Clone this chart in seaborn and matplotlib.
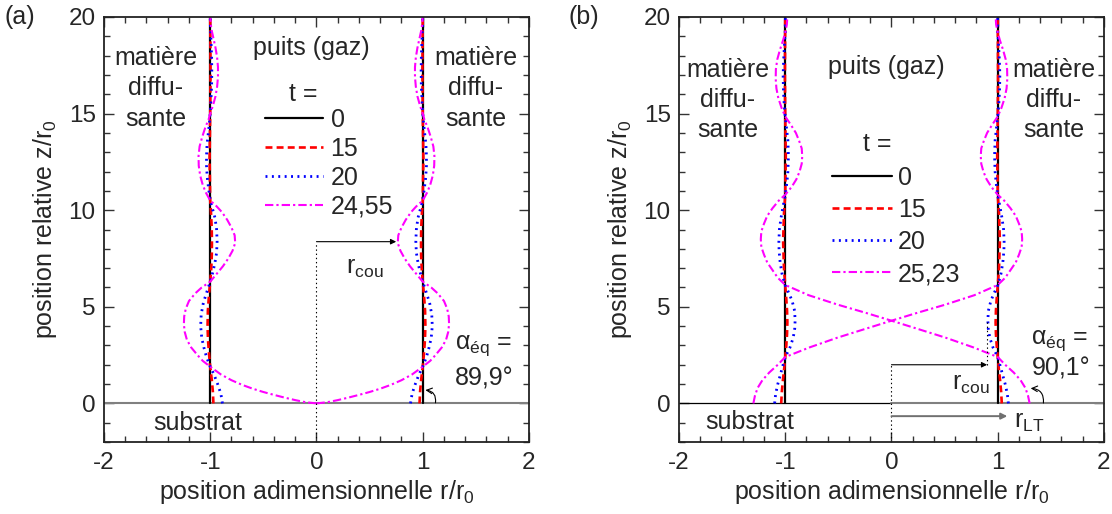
import numpy as np
import pandas as pd
import matplotlib.pyplot as plt
import seaborn as sns
from matplotlib.ticker import MultipleLocator

# légendes (temps adimensionnel)
t_a = ["0", "15", "20", "24,55"]
t_b = ["0", "15", "20", "25,23"]
colors = ["black", "#ff0000", "#0000ff", "#ff00ff"]

# ---- panneau (a) : profils r(z) du côté droit (le côté gauche est le miroir)
z_a0 = [0, 20]
r_a0 = [1, 1]

z_a15 = [0, 0.6, 1.2, 1.9, 2.6, 3.3, 4.0, 4.8, 5.6, 6.3, 7.0, 7.7, 8.4, 9.1,
         9.8, 10.5, 12.7, 15.0, 17.2, 20]
r_a15 = [0.97, 0.975, 0.985, 1.0, 1.012, 1.021, 1.025, 1.022, 1.012, 1.0,
         0.99, 0.985, 0.984, 0.986, 0.992, 1.0, 1.006, 1.0, 0.997, 1.0]

z_a20 = [0, 0.5, 1.0, 1.5, 1.9, 2.4, 2.9, 3.4, 4.0, 4.6, 5.2, 5.8, 6.3, 6.8,
         7.3, 7.8, 8.4, 9.0, 9.6, 10.1, 10.5, 11.1, 11.7, 12.3, 12.8, 13.4,
         14.0, 14.5, 15.0, 15.7, 16.4, 17.2, 18.0, 18.8, 19.5, 20]
r_a20 = [0.885, 0.9, 0.93, 0.965, 1.0, 1.035, 1.06, 1.08, 1.09, 1.085, 1.065,
         1.03, 1.0, 0.975, 0.955, 0.94, 0.935, 0.94, 0.955, 0.98, 1.0, 1.015,
         1.028, 1.035, 1.035, 1.03, 1.018, 1.008, 1.0, 0.993, 0.987, 0.985,
         0.987, 0.993, 0.998, 1.0]

z_a24 = [0, 0.06, 0.17, 0.3, 0.44, 0.59, 0.76, 0.96, 1.2, 1.5, 1.9,
         2.2, 2.5, 2.9, 3.3, 3.7, 4.1, 4.5, 4.9, 5.3, 5.7, 6.0, 6.3,
         6.7, 7.1, 7.5, 7.9, 8.3, 8.7, 9.1, 9.5, 9.9, 10.2, 10.5,
         10.9, 11.3, 11.8, 12.3, 12.8, 13.3, 13.8, 14.3, 14.7, 15.0,
         15.4, 15.9, 16.4, 16.9, 17.4, 17.9, 18.4, 18.9, 19.4, 20]
r_a24 = [0, 0.1, 0.2, 0.3, 0.4, 0.5, 0.6, 0.7, 0.8, 0.9, 1.0,
         1.07, 1.12, 1.18, 1.22, 1.24, 1.248, 1.245, 1.23, 1.2, 1.14, 1.08, 1.0,
         0.94, 0.88, 0.83, 0.79, 0.765, 0.77, 0.80, 0.84, 0.89, 0.94, 1.0,
         1.04, 1.07, 1.095, 1.108, 1.11, 1.1, 1.075, 1.045, 1.015, 1.0,
         0.975, 0.95, 0.935, 0.927, 0.927, 0.935, 0.95, 0.97, 0.99, 1.0]

# ---- panneau (b)
z_b0 = [0, 20]
r_b0 = [1, 1]

z_b15 = [0, 0.6, 1.2, 1.8, 2.4, 3.0, 3.6, 4.2, 4.8, 5.4, 6.1, 7.0, 8.4, 9.8,
         10.8, 12.8, 14.85, 17.0, 20]
r_b15 = [1.038, 1.032, 1.022, 1.01, 1.0, 0.99, 0.983, 0.98, 0.983, 0.99, 1.0,
         1.012, 1.02, 1.012, 1.0, 0.995, 1.0, 1.003, 1.0]

z_b20 = [0, 0.5, 1.0, 1.5, 2.0, 2.4, 2.9, 3.4, 3.9, 4.3, 4.8, 5.3, 5.7, 6.1,
         6.7, 7.3, 7.9, 8.4, 9.0, 9.6, 10.2, 10.8, 11.4, 12.0, 12.8, 13.6,
         14.2, 14.85, 15.5, 16.2, 17.0, 17.8, 18.5, 19.2, 20]
r_b20 = [1.10, 1.09, 1.07, 1.045, 1.02, 1.0, 0.955, 0.925, 0.91, 0.907, 0.912,
         0.935, 0.965, 1.0, 1.03, 1.048, 1.058, 1.06, 1.055, 1.04, 1.02, 1.0,
         0.985, 0.975, 0.97, 0.975, 0.987, 1.0, 1.01, 1.017, 1.02, 1.015,
         1.008, 1.0, 0.998]

z_b25 = [0, 0.4, 0.8, 1.2, 1.6, 2.0, 2.4, 2.9, 3.4, 3.85, 4.28, 4.7, 5.1, 5.6,
         6.13, 6.5, 6.9, 7.3, 7.7, 8.1, 8.5, 8.9, 9.3, 9.7, 10.1, 10.5, 10.8,
         11.2, 11.6, 12.0, 12.4, 12.8, 13.2, 13.6, 14.0, 14.4, 14.85,
         15.3, 15.8, 16.3, 16.8, 17.3, 17.8, 18.3, 18.8, 19.2, 19.6, 20]
r_b25 = [1.30, 1.285, 1.26, 1.215, 1.15, 1.07, 1.0, 0.77, 0.51, 0.25, 0.0,
         -0.25, -0.5, -0.78, -1.0, -1.07, -1.12, -1.17, -1.2, -1.225, -1.23,
         -1.225, -1.2, -1.17, -1.12, -1.06, -1.0, -0.94, -0.895, -0.865,
         -0.845, -0.84, -0.845, -0.87, -0.9, -0.945, -1.0, -1.035, -1.065,
         -1.083, -1.09, -1.088, -1.075, -1.05, -1.02, -1.0, -0.985, -0.98]


def build(curves, labels):
    frames = []
    for (z, r), lab in zip(curves, labels):
        z = np.asarray(z, float)
        r = np.asarray(r, float)
        frames.append(pd.DataFrame({"r": r, "z": z, "t": lab, "side": "d"}))
        frames.append(pd.DataFrame({"r": -r, "z": z, "t": lab, "side": "g"}))
    return pd.concat(frames, ignore_index=True)


df_a = build([(z_a0, r_a0), (z_a15, r_a15), (z_a20, r_a20), (z_a24, r_a24)], t_a)
df_b = build([(z_b0, r_b0), (z_b15, r_b15), (z_b20, r_b20), (z_b25, r_b25)], t_b)

sns.set_style("ticks")
plt.rcParams["font.family"] = ["Liberation Sans", "DejaVu Sans"]
plt.rcParams["mathtext.fontset"] = "custom"
plt.rcParams["mathtext.rm"] = "Liberation Sans"
plt.rcParams["mathtext.it"] = "Liberation Sans"
plt.rcParams["axes.unicode_minus"] = False
plt.rcParams["lines.scale_dashes"] = False

FS = 18
TS = 17.5
dash_styles = ["", (5, 3), (1.4, 3.2), (6, 2.2, 1.6, 2.2)]
widths = [1.6, 1.9, 2.0, 1.5]

fig = plt.figure(figsize=(11.12, 5.14), dpi=100)
ax_a = fig.add_axes([0.0935, 0.140, 0.3822, 0.827])
ax_b = fig.add_axes([0.6106, 0.140, 0.3822, 0.827])


def draw(ax, df, labels):
    sns.lineplot(data=df, x="r", y="z", hue="t", style="t", size="t",
                 units="side", estimator=None, sort=False,
                 hue_order=labels, style_order=labels, size_order=labels,
                 palette=dict(zip(labels, colors)),
                 dashes=dict(zip(labels, dash_styles)),
                 sizes=dict(zip(labels, widths)), ax=ax)
    ax.set_xlim(-2, 2)
    ax.set_ylim(-2, 20)
    ax.xaxis.set_major_locator(MultipleLocator(1))
    ax.xaxis.set_minor_locator(MultipleLocator(0.2))
    ax.yaxis.set_major_locator(MultipleLocator(5))
    ax.yaxis.set_minor_locator(MultipleLocator(1))
    ax.tick_params(which="both", direction="in", top=True, right=True,
                   width=1.0, labelsize=TS, color="#333333")
    ax.tick_params(which="major", length=7)
    ax.tick_params(which="minor", length=4)
    ax.tick_params(axis="x", pad=7)
    ax.tick_params(axis="y", pad=6)
    for sp in ax.spines.values():
        sp.set_linewidth(1.3)
        sp.set_color("#222222")
    ax.set_xlabel("position adimensionnelle r/r$_0$", fontsize=FS, labelpad=3)
    ax.set_ylabel("position relative z/r$_0$", fontsize=FS, labelpad=7)
    handles, labs = ax.get_legend_handles_labels()
    keep = [(h, l) for h, l in zip(handles, labs) if l in labels]
    return [k[0] for k in keep], [k[1] for k in keep]


arrow_kw = dict(arrowstyle="-|>", color="black", lw=0.8, mutation_scale=8,
                shrinkA=0, shrinkB=0)
block = "matière\ndiffu-\nsante"

# ---------- (a)
h, l = draw(ax_a, df_a, t_a)
ax_a.legend(h, l, frameon=False, loc="upper left", bbox_to_anchor=(0.379, 0.787),
            handlelength=2.3, handletextpad=0.32, labelspacing=0.2,
            borderpad=0, borderaxespad=0, fontsize=FS)
ax_a.text(-0.12, 16.0, "t =", ha="center", va="center", fontsize=FS)
ax_a.axhline(0, color="#808080", lw=1.5, zorder=1)
ax_a.text(-1.51, 16.3, block, ha="center", va="center", fontsize=FS, linespacing=1.33)
ax_a.text(1.5, 16.3, block, ha="center", va="center", fontsize=FS, linespacing=1.33)
ax_a.text(-0.05, 18.4, "puits (gaz)", ha="center", va="center", fontsize=FS)
ax_a.text(-1.12, -1.0, "substrat", ha="center", va="center", fontsize=FS)
ax_a.plot([0, 0], [-2, 8.37], color="black", lw=0.8, ls=(0, (1, 2)))
ax_a.annotate("", xy=(0.75, 8.37), xytext=(0, 8.37), arrowprops=arrow_kw)
ax_a.text(0.28, 7.0, "r$_{\\mathrm{cou}}$", ha="left", va="center", fontsize=FS)
ax_a.text(1.30, 3.0, "$\\alpha_{\\mathrm{éq}}$ =", ha="left", va="center", fontsize=FS)
ax_a.text(1.58, 1.3, "89,9°", ha="center", va="center", fontsize=FS)
ax_a.annotate("", xy=(1.025, 0.69), xytext=(1.12, 0.03),
              arrowprops=dict(arrowstyle="->", color="black", lw=0.8,
                              connectionstyle="arc3,rad=0.5", shrinkA=0, shrinkB=0))

# ---------- (b)
h, l = draw(ax_b, df_b, t_b)
ax_b.legend(h, l, frameon=False, loc="upper left", bbox_to_anchor=(0.36, 0.649),
            handlelength=2.4, handletextpad=0.25, labelspacing=0.32,
            borderpad=0, borderaxespad=0, fontsize=FS)
ax_b.text(-0.13, 13.4, "t =", ha="center", va="center", fontsize=FS)
ax_b.plot([-2, 0], [0, 0], color="black", lw=0.9, zorder=1)
ax_b.plot([0, 2], [0, 0], color="#808080", lw=1.5, zorder=1)
ax_b.text(-1.54, 15.7, block, ha="center", va="center", fontsize=FS, linespacing=1.33)
ax_b.text(1.53, 15.7, block, ha="center", va="center", fontsize=FS, linespacing=1.33)
ax_b.text(-0.05, 17.4, "puits (gaz)", ha="center", va="center", fontsize=FS)
ax_b.text(-1.33, -0.95, "substrat", ha="center", va="center", fontsize=FS)
ax_b.plot([0, 0], [-2, 2.0], color="black", lw=0.8, ls=(0, (1, 2)))
ax_b.plot([0.9, 0.9], [2.0, 4.2], color="black", lw=0.8, ls=(0, (1, 2)))
ax_b.annotate("", xy=(0.9, 2.0), xytext=(0, 2.0), arrowprops=arrow_kw)
ax_b.annotate("", xy=(1.09, -0.66), xytext=(0, -0.66),
              arrowprops=dict(arrowstyle="-|>", color="#707070", lw=1.4,
                              mutation_scale=9, shrinkA=0, shrinkB=0))
ax_b.text(0.57, 1.0, "r$_{\\mathrm{cou}}$", ha="left", va="center", fontsize=FS)
ax_b.text(1.15, -0.95, "r$_{\\mathrm{LT}}$", ha="left", va="center", fontsize=FS)
ax_b.text(1.31, 3.25, "$\\alpha_{\\mathrm{éq}}$ =", ha="left", va="center", fontsize=FS)
ax_b.text(1.6, 1.8, "90,1°", ha="center", va="center", fontsize=FS)
ax_b.annotate("", xy=(1.31, 0.78), xytext=(1.43, 0.02),
              arrowprops=dict(arrowstyle="->", color="black", lw=0.8,
                              connectionstyle="arc3,rad=0.5", shrinkA=0, shrinkB=0))

fig.text(0.004, 0.967, "(a)", ha="left", va="center", fontsize=FS)
fig.text(0.511, 0.967, "(b)", ha="left", va="center", fontsize=FS)

fig.savefig("out.png", dpi=100)
